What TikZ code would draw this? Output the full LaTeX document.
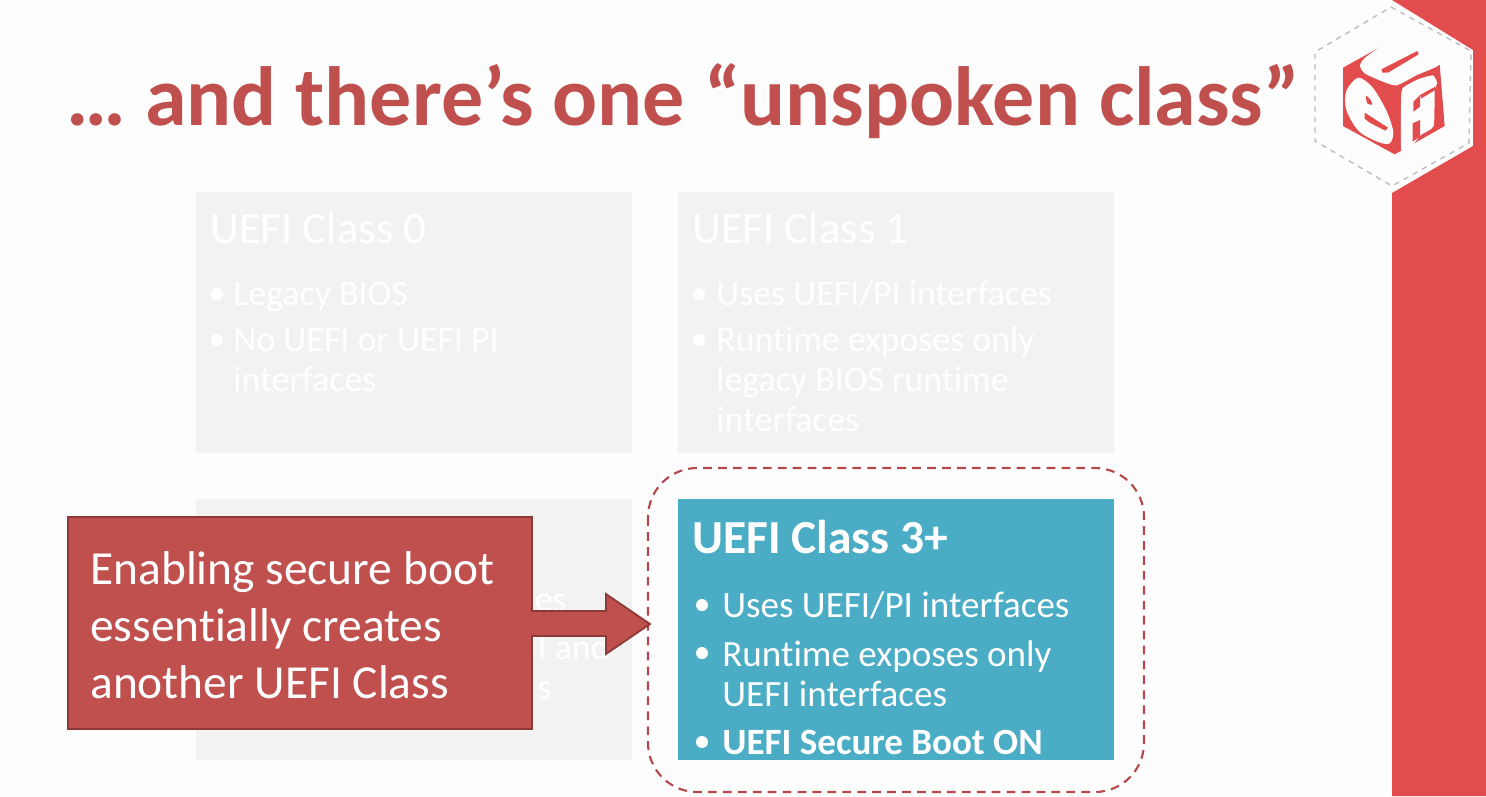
\documentclass[tikz,border=0pt]{standalone}
\usepackage{fontspec}
\setmainfont[Ligatures=NoCommon]{Carlito}
\usetikzlibrary{arrows.meta,positioning,calc}
\definecolor{bgwhite}{HTML}{FDFDFD}
\definecolor{bandred}{HTML}{E34C4C}
\definecolor{titlered}{HTML}{C0504D}
\definecolor{edgered}{HTML}{8C3A38}
\definecolor{ringred}{HTML}{B5484A}
\definecolor{panelgray}{HTML}{F2F2F2}
\definecolor{panelblue}{HTML}{4BACC6}
\definecolor{hexgray}{HTML}{BDBDC2}
\tikzset{
  panel/.style={fill=#1,draw=none},
  headtext/.style={anchor=base west,inner sep=0pt,text=white,font=\fontsize{25.5}{30}\selectfont},
  linetext/.style={anchor=base west,inner sep=0pt,text=white,font=\fontsize{20.4}{24}\selectfont},
  bluetext/.style={anchor=base west,inner sep=0pt,text=white,font=\fontsize{21.1}{25}\selectfont},
  calltext/.style={anchor=base west,inner sep=0pt,text=white,font=\fontsize{27}{32}\selectfont}
}
\begin{document}
\begin{tikzpicture}[x=.02cm,y=-.02cm]
\useasboundingbox (0,0) rectangle (1486,796);
\fill[bgwhite] (0,0) rectangle (1486,796);
% right band and logo
\fill[bandred] (1392,0) -- (1486,0) -- (1486,796) -- (1392,796) -- (1392,193) -- (1473,146) -- (1473,50) -- cycle;
\draw[hexgray,dashed,line width=.8pt] (1391,7) -- (1471,51) -- (1469,143) -- (1392,186) -- (1315,141) -- (1315,52) -- cycle;
\begin{scope}[shift={(1338,36)},x=.00667cm,y=-.00667cm]
\fill[bandred] (15,95) -- (165,12) -- (305,85) -- (320,270) -- (170,355) -- (15,270) -- cycle;
\fill[bgwhite] plot[smooth cycle,tension=.4] coordinates {(168,10) (85,62) (66,88) (80,112) (130,135) (175,148) (235,118) (308,82) (240,38)};
\fill[bandred] (130,100) -- (238,45) -- (242,55) -- (150,110) -- (133,110) -- cycle;
\fill[bgwhite] plot[smooth cycle,tension=.5] coordinates {(60,125) (100,150) (130,195) (152,240) (166,290) (155,322) (120,318) (62,285) (25,222) (25,165)};
\fill[bandred] plot[smooth cycle,tension=.5] coordinates {(84,180) (98,192) (102,206) (88,202)};
\fill[bandred] (80,230) -- (150,275) -- (142,284) -- (95,260) -- (80,248) -- cycle;
\fill[bgwhite] plot[smooth cycle,tension=.3] coordinates {(190,170) (205,148) (245,128) (285,118) (297,140) (290,165) (287,270) (250,296) (225,325) (190,345)};
\fill[bandred] (226,197) -- (246,177) -- (246,212) -- (226,227) -- cycle;
\fill[bandred] (224,262) -- (246,252) -- (246,302) -- (224,317) -- cycle;
\fill[bandred] (246,177) -- (292,152) -- (292,162) -- (250,187) -- cycle;
\end{scope}
% title
\node[anchor=base west,inner sep=0pt,text=titlered,font=\fontsize{47.8}{54}\selectfont\bfseries] (title) at (66,125) {… and there’s one “unspoken class”};
% class panels
\fill[panel=panelgray] (196,192) rectangle (632,453);
\fill[panel=panelgray] (678,192) rectangle (1114,453);
\fill[panel=panelgray] (196,499) rectangle (632,760);
\fill[panel=panelblue] (678,499) rectangle (1114,760);
\node[headtext] (zerohead) at (210,243) {UEFI Class 0};
\node[linetext] (zeroa) at (233,305) {Legacy BIOS};
\node[linetext] (zerob) at (233,351) {No UEFI or UEFI PI};
\node[linetext] (zeroc) at (233,391) {interfaces};
\node[headtext] (onehead) at (692,243) {UEFI Class 1};
\node[linetext] (onea) at (716,305) {Uses UEFI/PI interfaces};
\node[linetext] (oneb) at (716,351) {Runtime exposes only};
\node[linetext] (onec) at (716,391) {legacy BIOS runtime};
\node[linetext] (oned) at (716,431) {interfaces};
\foreach \x/\y in {217/294,217/340,699/294,699/340}{\fill[white] (\x,\y) circle (6);}
\node[linetext,anchor=base east] (twoa) at (567,611) {es};
\node[linetext,anchor=base east] (twob) at (610,659) {FI and};
\node[linetext,anchor=base east] (twoc) at (552,699) {s};
% class three
\node[headtext,font=\fontsize{27}{30}\selectfont\bfseries] (threehead) at (692,553) {UEFI Class 3+};
\node[bluetext] (threea) at (722,617) {Uses UEFI/PI interfaces};
\node[bluetext] (threeb) at (722,666) {Runtime exposes only};
\node[bluetext] (threec) at (722,706) {UEFI interfaces};
\node[bluetext,font=\fontsize{21.1}{25}\selectfont\bfseries] (threed) at (722,754) {UEFI Secure Boot ON};
\foreach \y in {605,653,742}{\fill[white] (702,\y) circle (6);}
\draw[ringred,dash pattern=on 5pt off 3.5pt,line width=1.2pt,rounded corners=28pt] (648,468) rectangle (1144,792);
% callout
\draw[fill=titlered,draw=edgered,line width=1pt] (68,517) -- (532,517) -- (532,611) -- (606,611) -- (606,594) -- (650,624) -- (606,654) -- (606,636) -- (532,636) -- (532,729) -- (68,729) -- cycle;
\node[calltext] (calla) at (90,584) {Enabling secure boot};
\node[calltext] (callb) at (90,641) {essentially creates};
\node[calltext] (callc) at (90,698) {another UEFI Class};
\end{tikzpicture}
\end{document}
